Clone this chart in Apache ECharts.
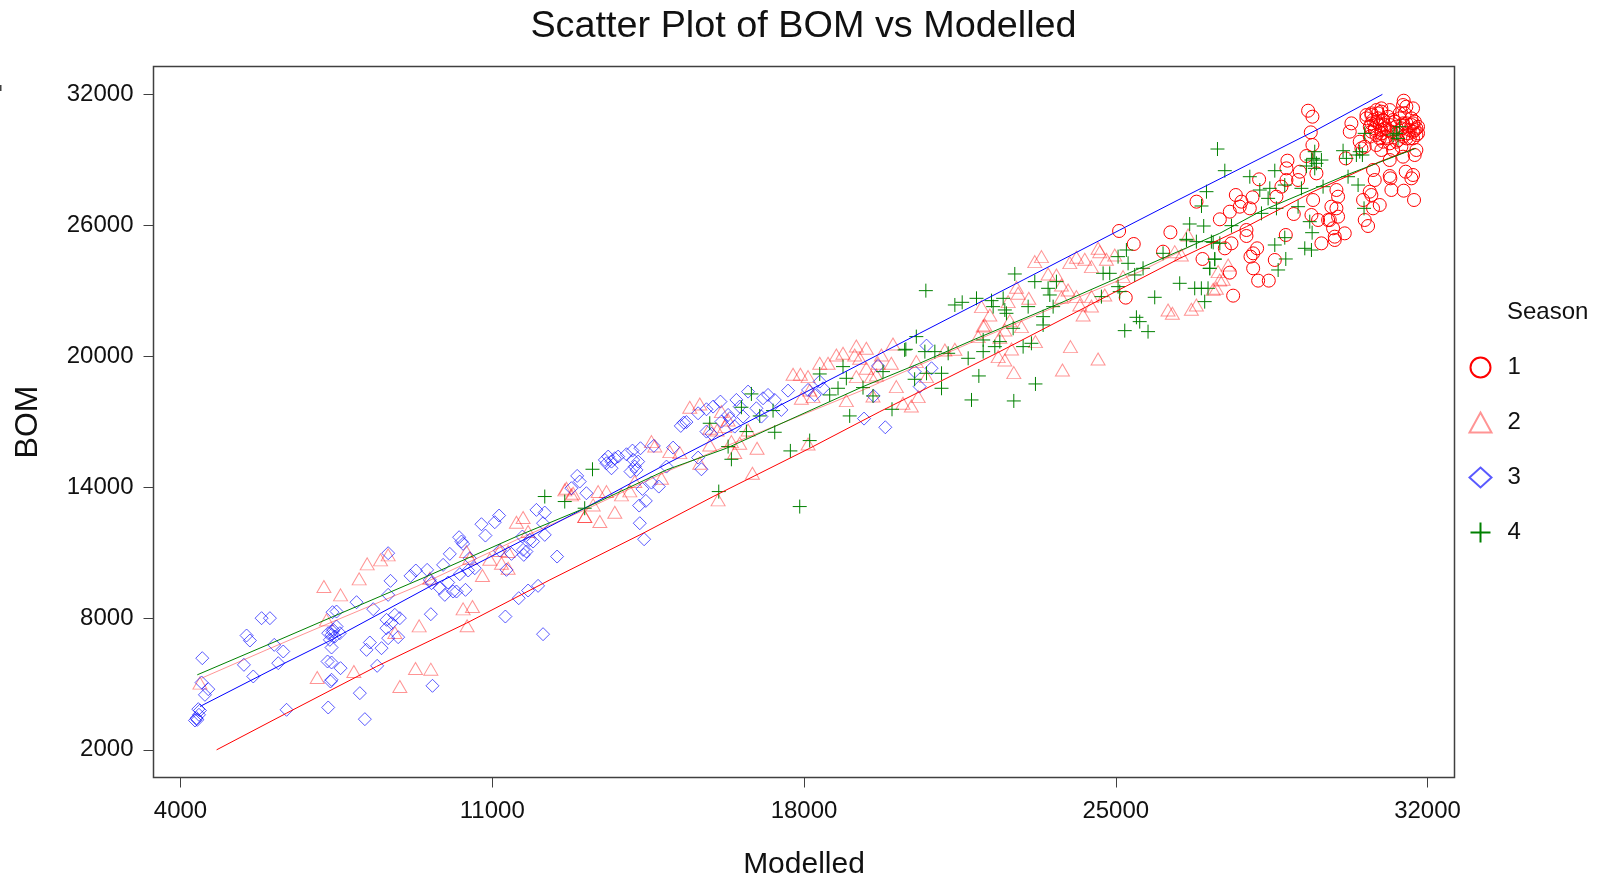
<!DOCTYPE html>
<html><head><meta charset="utf-8">
<style>html,body{margin:0;padding:0;background:#fff}#c{width:1607px;height:879px}</style>
<script src="https://cdn.jsdelivr.net/npm/echarts@6/dist/echarts.min.js"></script>
</head><body><div id="c"></div>
<script>
const chartTitle = 'Scatter Plot of BOM vs Modelled';
const xName = 'Modelled', yName = 'BOM', legendTitle = 'Season';
const xTicks = [4000, 11000, 18000, 25000, 32000];
const yTicks = [2000, 8000, 14000, 20000, 26000, 32000];
const seasons = ['1', '2', '3', '4'];

const season1 = [[29319,31249],[29416,30975],[29379,30258],[29416,29678],[29281,29175],[29506,28382],[28855,28962],[29132,28458],[28833,28611],[29094,28077],[28833,28077],[28720,27772],[28219,28108],[28608,27314],[27696,27391],[28070,27284],[27823,27086],[27785,26857],[28010,26781],[27561,26628],[27337,26278],[26813,27086],[28997,26522],[29431,27162],[29394,26476],[29543,26247],[29768,26247],[29955,27620],[29992,27314],[29955,26781],[29842,26857],[29992,26400],[29805,26247],[29880,25866],[29917,25485],[30142,25637],[29917,25332],[29618,25179],[27935,25789],[27935,25515],[27598,25179],[27449,24951],[26948,24463],[28085,24722],[28174,24951],[28025,24570],[28085,24036],[28571,24417],[28818,25561],[28197,23472],[28436,23472],[27561,23838],[27636,22785],[30291,30670],[30254,30288],[30164,29068],[30478,29831],[30516,29526],[30553,27162],[30703,27543],[30740,27391],[30927,26933],[30777,26781],[30590,26247],[30665,25972],[30815,28077],[30777,28535],[31151,28260],[31166,28154],[31189,27620],[31466,27589],[31697,27162],[31510,28458],[31675,28306],[31638,28154],[31712,29221],[31750,29450],[31451,29145],[31151,28992],[31466,31707],[31675,31356],[30964,31356],[30740,31051],[30890,31127],[31151,31279],[31376,31127],[31525,31432],[30740,30670],[30852,30746],[31002,30822],[31226,30822],[31675,30670],[31712,30364],[31787,30212],[31600,30364],[31451,30670],[30815,30364],[30964,30364],[31114,30364],[30927,29983],[31114,29983],[31301,29831],[31525,29983],[31675,29983],[30703,30059],[30852,29678],[31226,29450],[30964,29450],[31413,29602],[30590,29602],[30628,30898],[31039,30593],[31301,30517],[31787,30517],[31638,30898],[31451,31508],[25075,25744],[25404,25149],[26227,25683],[26062,24798],[25224,22694],[30741,31128],[30854,31280],[30966,31204],[30779,30822],[30891,30899],[31003,30822],[31115,30975],[30704,30518],[30816,30441],[30928,30594],[31041,30441],[31153,30594],[31265,30746],[31377,30899],[31489,31128],[30854,30136],[30966,30212],[31078,30060],[31190,30289],[31302,30212],[31415,30441],[31527,30670],[31639,30594],[31751,30441],[31676,30289],[31564,30212],[31452,30060],[31003,29831],[31153,29755],[31340,29908],[31602,29984],[31751,30136],[31714,30746],[30741,30289],[30629,31051]];

const season2 = [[7220,9473],[7594,9092],[8012,9824],[8192,10510],[8491,10693],[8663,10922],[7070,5310],[7893,5584],[8925,4898],[9277,5722],[9621,5691],[8813,7369],[9359,7673],[10346,8451],[10556,8558],[10436,7674],[10780,9976],[10421,11075],[10945,10724],[11207,10541],[11356,10312],[11543,12416],[11693,12630],[11805,11989],[11356,11074],[11169,11120],[12665,13972],[12815,13743],[13076,12676],[7279,7948],[4437,5051],[9598,9854],[10496,10769],[13378,13818],[13565,13818],[13902,13666],[14089,13849],[13752,12873],[13416,12446],[13079,12674],[13266,13208],[12780,13666],[12630,13895],[14201,14276],[14800,14428],[14575,16106],[14650,15908],[14987,15648],[15211,15602],[15435,17677],[15660,17829],[15660,15114],[15884,15953],[16071,13437],[16842,14657],[15884,16716],[16049,16640],[16221,16792],[16370,16106],[16557,16030],[16445,15603],[16946,15801],[18091,15999],[16744,16640],[16146,17478],[16296,17097],[17754,19186],[17919,19186],[18091,19080],[17941,18088],[18203,18164],[18128,18469],[18353,19690],[18540,19690],[18727,20071],[18876,20147],[19175,20483],[19400,20376],[19998,20574],[19138,20071],[19250,19918],[19737,20071],[19662,19690],[19961,19690],[19400,19461],[19175,19080],[19625,19156],[20073,18622],[19512,19080],[18951,17982],[20222,17860],[20410,17738],[19549,18195],[20522,19766],[20564,18165],[20751,19080],[21163,20299],[21387,20330],[22060,21443],[22023,21398],[21911,20909],[22509,19842],[22360,19994],[22711,19263],[22659,20345],[22397,20879],[22509,21215],[22173,21901],[21985,22282],[22584,22511],[22621,21642],[22883,21367],[23197,20681],[23047,22663],[22771,23167],[22808,22892],[23182,24341],[23332,24570],[23481,23777],[23668,23731],[23968,24295],[24117,24539],[24304,24448],[24454,24112],[23781,23273],[23930,23044],[23781,22709],[24117,22740],[24454,22740],[24267,21901],[24454,22313],[24192,22358],[23983,20452],[23803,19385],[24603,19888],[24603,24951],[24641,24798],[24790,24448],[24977,24646],[25164,23655],[24753,22816],[26174,22130],[26271,21977],[26698,22160],[26810,22358],[26623,25561],[26473,24646],[26324,24798],[27259,23121],[27334,23502],[27299,23883],[27524,24188],[27411,23533],[27187,23075]];

const season3 = [[4489,6194],[4474,5081],[4624,4776],[4549,4517],[4400,3861],[4437,3800],[4362,3449],[4325,3343],[4415,3602],[4377,3373],[5821,8024],[6008,8024],[5484,7231],[5559,7002],[6105,6804],[6307,6499],[5424,5889],[6195,5965],[5634,5356],[6382,3831],[7317,3937],[8140,3403],[8027,4593],[7369,5127],[7392,5203],[7594,5737],[7302,6042],[7392,5996],[7392,6682],[8416,5843],[8177,6575],[8252,6911],[8514,6652],[8888,7155],[8663,7109],[8626,7567],[8925,8024],[8813,8177],[8626,7948],[8738,7795],[8663,9092],[8716,9732],[8663,10998],[7953,8756],[8327,8436],[7414,8299],[7504,8329],[7504,7643],[7392,7262],[7317,7338],[7429,7491],[7466,7186],[7579,7338],[7354,7033],[7414,7414],[9621,8207],[9658,4929],[11295,8100],[11595,8939],[11805,9290],[12029,9504],[12141,7292],[12456,10845],[9165,9961],[9284,10205],[9538,10235],[9598,9778],[9636,9626],[9823,9397],[9935,9092],[10010,9656],[10122,9244],[10197,9244],[10399,9321],[10271,10037],[9897,10464],[10047,10968],[10256,11730],[10309,11532],[10346,11425],[10496,10769],[10608,10312],[10459,10205],[10758,12325],[10847,11806],[11057,12416],[11154,12721],[11169,11120],[11431,10968],[11319,10236],[11677,11761],[11708,10922],[11693,11151],[11842,11608],[11917,11532],[11992,12980],[12179,12859],[12141,12371],[12179,11837],[11767,11074],[12777,13972],[12964,14277],[13114,13743],[12907,14535],[13528,15267],[13603,15420],[13678,15191],[13752,15343],[13565,15114],[13827,15420],[13678,14886],[14014,15526],[14149,15694],[14328,15801],[14628,15908],[14164,15267],[14276,15191],[14201,14962],[14104,14733],[14239,14810],[15061,15831],[14912,14962],[15622,15374],[15697,14840],[14575,14230],[14740,14047],[14373,13940],[14448,13391],[14299,13178],[14313,12370],[14410,11637],[15233,16823],[15301,16975],[15360,17000],[15622,17402],[15810,17585],[15959,17707],[16124,17936],[15810,16563],[15922,16457],[16146,17021],[16296,17326],[16333,17173],[16482,18012],[16445,16792],[16557,17707],[16632,17250],[16744,18393],[16931,17631],[17081,18088],[17193,18241],[17343,18012],[17492,17555],[17044,17250],[17642,18439],[18240,18241],[18091,18469],[18353,18851],[18428,18546],[19662,19568],[19564,18195],[19348,17158],[19826,16761],[20484,19308],[20597,18622],[20751,20498],[20863,19461]];

const season4 = [[12179,13591],[12628,13362],[13076,13057],[13251,14840],[15884,16945],[16086,13818],[16296,15877],[16370,15297],[16707,16563],[17343,16533],[16819,18287],[16595,17677],[17006,17280],[17305,17524],[17694,15679],[18128,16152],[17904,13132],[18577,18241],[18764,18546],[18951,19003],[18876,19537],[18353,19201],[19026,17280],[19325,18576],[19549,18195],[19774,19308],[19976,17585],[20260,20300],[20522,20910],[20484,18958],[20736,23014],[20287,20330],[20714,20223],[20938,20223],[21237,20147],[20751,19232],[21088,19232],[21088,18546],[21686,19918],[21926,19110],[21761,18012],[22711,17966],[23197,18744],[21387,22358],[21552,22480],[21873,22663],[22210,22556],[22247,22282],[22472,22663],[22509,22130],[22546,21977],[22733,23777],[23033,22282],[23369,21824],[23369,21443],[23594,22282],[23182,23426],[23481,23121],[23519,22816],[23668,23426],[22696,21291],[22023,20757],[22023,20223],[22285,20452],[22397,20681],[22920,20452],[23107,20605],[24678,22740],[24716,23807],[24865,23807],[25052,24570],[25239,24874],[25277,24265],[25052,23197],[25090,22968],[25426,23731],[25613,24036],[25202,21184],[25464,21794],[25538,21596],[25725,21138],[25875,22709],[26062,24722],[26436,23350],[26660,26064],[26975,25972],[26586,25363],[26810,25256],[27147,25256],[27222,24448],[27110,24036],[26773,23121],[26922,23121],[27072,23121],[26997,22511],[27284,29495],[27449,28504],[27037,27543],[26925,26888],[27598,25988],[28272,26552],[28010,28229],[28571,28504],[28234,27620],[28459,27696],[28421,27238],[28795,27848],[28608,26781],[29094,26857],[29169,27696],[29655,27772],[29356,26171],[29409,25667],[29244,24951],[29394,24874],[28571,25103],[28795,25439],[28818,24463],[28646,23960],[27187,25225],[27337,25179],[26589,25332],[27224,24463],[27112,24036],[29468,29373],[29394,28992],[29506,28840],[29618,28992],[29281,28718],[29468,28611],[29431,29068],[30104,29419],[30179,29068],[30478,29373],[30538,29221],[30403,29221],[30216,28229],[30441,27848],[30575,26781],[30590,30212],[31301,30212],[31376,30517],[31226,30136],[31338,29983]];

const fit1 = [[4811,1999],[6382,3678],[8401,5813],[10421,7795],[12294,9777],[14388,11912],[15959,13589],[18128,15800],[19704,17478],[22322,20147],[24491,22434],[26439,24493],[27935,25942],[29431,27543],[30927,28916],[31712,29526]];
const fit2 = [[4474,5279],[5933,6575],[7429,7872],[9299,9473],[11543,11608],[13076,12980],[14912,14733],[16408,16030],[19325,18469],[20597,19613],[21798,20681],[23743,22358],[25538,23883],[26735,25103]];
const fit3 = [[4437,3983],[6307,5935],[7392,7033],[7728,7414],[9598,9473],[10533,10388],[12141,12066],[13076,13057],[14912,15084],[16969,17250],[18353,18698],[20597,21062],[22920,23502],[25090,25790],[26399,27162],[29506,30364],[30987,31996]];
const fit4 = [[4377,5432],[6008,6850],[7429,8100],[9523,9930],[11543,11761],[13076,13057],[14912,14810],[16258,15801],[19325,18622],[20597,19690],[21798,20757],[23743,22434],[25538,24036],[27334,25637],[28234,26628],[30179,28306],[31735,29526]];

const plus = 'path://M0,7L14,7M7,0L7,14';
const c1 = '#ff0000', c2 = 'rgba(255,0,0,0.42)', c3 = 'rgba(0,0,255,0.65)', c4 = '#008000';
const line3 = '#0000ff';
const inkAxis = '#404040', ink = '#111';
const font = '"Liberation Sans", Arial, sans-serif';
const plain = v => String(v);

function pts(name, data, symbol, size, color) {
  return { name, type: 'scatter', data, symbol, symbolSize: size, silent: true,
    itemStyle: { color: 'none', borderColor: color, borderWidth: 1, opacity: 1 } };
}
function fit(name, data, color) {
  return { name, type: 'line', data, symbol: 'none', silent: true, z: 3,
    lineStyle: { color, width: 1 } };
}

const chart = echarts.init(document.getElementById('c'), null, { renderer: 'canvas' });
chart.setOption({
  animation: false,
  backgroundColor: '#fff',
  title: { text: chartTitle, left: 'center', top: 3,
    textStyle: { fontFamily: font, fontSize: 37.8, fontWeight: 'normal', color: ink } },
  grid: { left: 153.5, right: 152.5, top: 66.5, bottom: 101.5, show: true, outerBoundsMode: 'none',
    borderColor: inkAxis, borderWidth: 1.5, backgroundColor: '#fff' },
  xAxis: { type: 'value', min: 3394, max: 32606, name: xName, nameLocation: 'middle', nameGap: 72,
    nameTextStyle: { fontFamily: font, fontSize: 30, color: ink },
    splitLine: { show: false }, axisLine: { show: false },
    axisTick: { show: true, length: 10, customValues: xTicks, lineStyle: { color: inkAxis, width: 1 } },
    axisLabel: { customValues: xTicks, margin: 22, fontFamily: font, fontSize: 24, color: ink, formatter: plain,
      showMinLabel: true, showMaxLabel: true } },
  yAxis: { type: 'value', min: 733, max: 33272, name: yName, nameLocation: 'middle', nameGap: 109,
    nameTextStyle: { fontFamily: font, fontSize: 32, color: ink },
    splitLine: { show: false }, axisLine: { show: false },
    axisTick: { show: true, length: 10, customValues: yTicks, lineStyle: { color: inkAxis, width: 1 } },
    axisLabel: { customValues: yTicks, margin: 20, fontFamily: font, fontSize: 24, color: ink, formatter: plain } },
  legend: { data: seasons, orient: 'vertical', left: 1462, top: 350, itemWidth: 22, itemHeight: 20, itemGap: 30,
    selectedMode: false,
    textStyle: { fontFamily: font, fontSize: 24, color: ink, padding: [0, 0, 0, 11] } },
  graphic: [
    { type: 'text', left: 1507, top: 300, silent: true,
      style: { text: legendTitle, fontFamily: font, fontSize: 24, fill: ink } },
    { type: 'rect', left: 0, top: 85, silent: true, shape: { width: 1.5, height: 6 }, style: { fill: inkAxis } }
  ],
  series: [
    pts(seasons[0], season1, 'circle', 13, c1),
    pts(seasons[1], season2, 'triangle', [14, 12], c2),
    pts(seasons[2], season3, 'diamond', 13, c3),
    pts(seasons[3], season4, plus, 14, c4),
    fit('fit1', fit1, c1), fit('fit2', fit2, c2), fit('fit3', fit3, line3), fit('fit4', fit4, c4)
  ]
});
</script></body></html>
